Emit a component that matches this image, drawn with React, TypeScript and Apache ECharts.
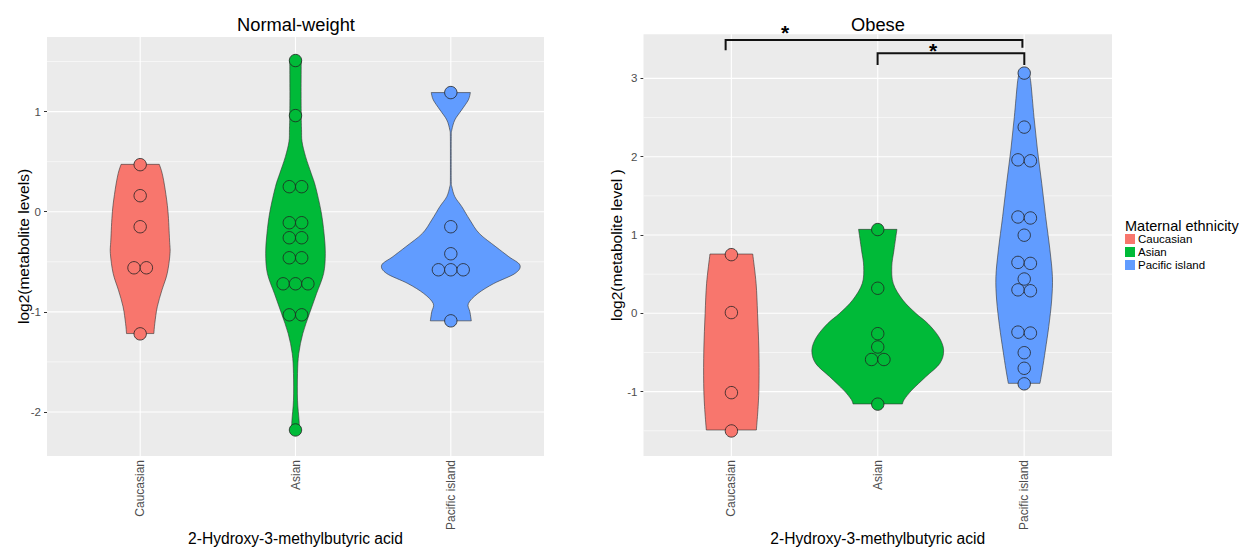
import React, { useEffect, useRef } from "react";
import * as echarts from "echarts";

// ---------- data ----------
const categories = ["Caucasian", "Asian", "Pacific island"];
const groupColors = ["#F8766D", "#00BA38", "#619CFF"];
const xTickValues = [1, 2, 3];

const normalYTicks = [-2, -1, 0, 1];
const normalYMinor = [-1.5, -0.5, 0.5, 1.5];
const obeseYTicks = [-1, 0, 1, 2, 3];
const obeseYMinor = [-1.5, -0.5, 0.5, 1.5, 2.5];

// individual observations (log2 metabolite level)
const normalCaucasian = [0.47, 0.16, -0.15, -0.56, -0.56, -1.22];
const normalAsian = [1.51, 0.96, 0.25, 0.25, -0.11, -0.11, -0.26, -0.26, -0.46, -0.46, -0.72, -0.72, -0.72, -1.03, -1.03, -2.18];
const normalPacific = [1.19, -0.15, -0.42, -0.58, -0.58, -0.58, -1.09];
const obeseCaucasian = [0.76, 0.02, -1.0, -1.49];
const obeseAsian = [1.07, 0.32, -0.26, -0.43, -0.59, -0.59, -1.16];
const obesePacific = [3.08, 2.39, 1.96, 1.96, 1.23, 1.23, 1.01, 0.65, 0.65, 0.45, 0.3, 0.3, -0.24, -0.24, -0.49, -0.69, -0.89];

// violin outlines: [value, half width in category units]
const normalCaucasianViolin = [
  [0.473, 0.123], [0.38, 0.142], [0.22, 0.161], [0, 0.179], [-0.283, 0.189], [-0.417, 0.192],
  [-0.617, 0.174], [-0.783, 0.14], [-0.95, 0.11], [-1.117, 0.094], [-1.217, 0.088],
];
const normalAsianViolin = [
  [1.51, 0.037], [1.2, 0.036], [0.95, 0.037], [0.82, 0.039], [0.7, 0.042], [0.55, 0.065],
  [0.383, 0.101], [0.25, 0.129], [0, 0.165], [-0.22, 0.184], [-0.417, 0.192], [-0.617, 0.181],
  [-0.82, 0.135], [-1.017, 0.09], [-1.217, 0.047], [-1.417, 0.021], [-1.617, 0.013],
  [-1.883, 0.013], [-2.083, 0.023], [-2.18, 0.025],
];
const normalPacificViolin = [
  [1.19, 0.126], [1.117, 0.113], [1.017, 0.07], [0.917, 0.026], [0.817, 0.0065], [0.75, 0.003],
  [0.5, 0.0025], [0.3, 0.003], [0.25, 0.0065], [0.15, 0.026], [0.05, 0.071], [-0.083, 0.123],
  [-0.217, 0.183], [-0.35, 0.29], [-0.45, 0.374], [-0.533, 0.445], [-0.617, 0.413],
  [-0.717, 0.277], [-0.817, 0.174], [-0.917, 0.113], [-1.0, 0.123], [-1.09, 0.132],
];
const obeseCaucasianViolin = [
  [0.757, 0.146], [0.383, 0.169], [0, 0.179], [-0.468, 0.188], [-0.894, 0.189], [-1.19, 0.183], [-1.49, 0.171],
];
const obeseAsianViolin = [
  [1.072, 0.131], [0.81, 0.111], [0.6, 0.096], [0.38, 0.106], [0.17, 0.171], [0, 0.26],
  [-0.13, 0.342], [-0.3, 0.417], [-0.47, 0.45], [-0.64, 0.424], [-0.81, 0.328], [-0.98, 0.233],
  [-1.1, 0.181], [-1.157, 0.169],
];
const obesePacificViolin = [
  [3.09, 0.032], [2.94, 0.046], [2.51, 0.067], [2.085, 0.091], [1.66, 0.12], [1.234, 0.147],
  [0.81, 0.176], [0.468, 0.193], [0.17, 0.188], [-0.17, 0.168], [-0.468, 0.145], [-0.723, 0.124],
  [-0.894, 0.108],
];

// significance brackets on the Obese panel: [x start, x end, top level, left leg end, right leg end]
const bracketRows = [
  [0.961, 2.988, 3.49, 3.36, 3.39],
  [1.999, 3.001, 3.32, 3.17, 3.17],
];
const starRows = [
  [1.367, 3.64],
  [2.378, 3.405],
];

// ---------- helpers ----------
const FONT = "'Liberation Sans', Arial, Helvetica, sans-serif";
const X_MIN = 0.4;
const X_MAX = 3.6;
const NORMAL_Y = [-2.44, 1.745];
const OBESE_Y = [-1.822, 3.563];

function sideCurve(pts: number[][], cx: number, side: number): string {
  let d = "";
  for (let i = 0; i < pts.length - 1; i++) {
    const p0 = pts[i - 1] || pts[i];
    const p1 = pts[i];
    const p2 = pts[i + 1];
    const p3 = pts[i + 2] || p2;
    let c1x = p1[0] + (p2[0] - p0[0]) / 6;
    const c1y = p1[1] + (p2[1] - p0[1]) / 6;
    let c2x = p2[0] - (p3[0] - p1[0]) / 6;
    const c2y = p2[1] - (p3[1] - p1[1]) / 6;
    if (side < 0) {
      c1x = Math.min(c1x, cx);
      c2x = Math.min(c2x, cx);
    } else {
      c1x = Math.max(c1x, cx);
      c2x = Math.max(c2x, cx);
    }
    d += ` C${c1x},${c1y} ${c2x},${c2y} ${p2[0]},${p2[1]}`;
  }
  return d;
}

function violinSeries(grid: number, cat: number, profile: number[][], points: number[]) {
  const color = groupColors[cat];
  return {
    type: "custom",
    name: categories[cat],
    xAxisIndex: grid,
    yAxisIndex: grid,
    coordinateSystem: "cartesian2d",
    itemStyle: { color },
    clip: false,
    silent: true,
    z: 3,
    data: [[cat + 1, 0]],
    renderItem: (_params: any, api: any) => {
      const c = api.value(0);
      const cx = api.coord([c, 0])[0];
      const left = profile.map(([v, hw]) => api.coord([c - hw, v]));
      const right = profile.map(([v, hw]) => api.coord([c + hw, v])).reverse();
      let d = `M${left[0][0]},${left[0][1]}`;
      d += sideCurve(left, cx, -1);
      d += ` L${right[0][0]},${right[0][1]}`;
      d += sideCurve(right, cx, 1);
      d += " Z";
      const children: any[] = [
        {
          type: "path",
          shape: { pathData: d },
          style: { fill: color, stroke: "#333333", lineWidth: 0.6 },
        },
      ];
      const counts = new Map<number, number>();
      points.forEach((v) => counts.set(v, (counts.get(v) || 0) + 1));
      const dia = 12.4;
      counts.forEach((n, v) => {
        const p = api.coord([c, v]);
        for (let i = 0; i < n; i++) {
          children.push({
            type: "circle",
            shape: { cx: p[0] + (i - (n - 1) / 2) * dia, cy: p[1], r: dia / 2 },
            style: { fill: color, stroke: "#222222", lineWidth: 0.8 },
          });
        }
      });
      return { type: "group", children };
    },
  };
}

function gridLineSeries(grid: number, majors: number[], minors: number[], yMin: number) {
  const data = [
    ...majors.map((v) => [v, 0]),
    ...minors.map((v) => [v, 1]),
    ...xTickValues.map((v) => [v, 2]),
  ];
  return {
    type: "custom",
    xAxisIndex: grid,
    yAxisIndex: grid,
    coordinateSystem: "cartesian2d",
    silent: true,
    z: 1,
    data,
    renderItem: (params: any, api: any) => {
      const cs = params.coordSys;
      const val = api.value(0);
      const kind = api.value(1);
      if (kind === 2) {
        const x = api.coord([val, yMin])[0];
        return {
          type: "line",
          shape: { x1: x, y1: cs.y, x2: x, y2: cs.y + cs.height },
          style: { stroke: "#ffffff", lineWidth: 1.1 },
        };
      }
      const y = api.coord([X_MIN, val])[1];
      return {
        type: "line",
        shape: { x1: cs.x, y1: y, x2: cs.x + cs.width, y2: y },
        style: { stroke: "#ffffff", lineWidth: kind === 0 ? 1.1 : 0.55 },
      };
    },
  };
}

function xAxis(grid: number) {
  return {
    type: "value",
    gridIndex: grid,
    min: X_MIN,
    max: X_MAX,
    axisLine: { show: false },
    axisTick: { show: true, customValues: xTickValues, length: 3, lineStyle: { color: "#333333", width: 1 } },
    axisLabel: {
      customValues: xTickValues,
      rotate: 90,
      margin: 4,
      padding: [6, 0, 0, 0],
      color: "#4d4d4d",
      fontSize: 12,
      fontFamily: FONT,
      formatter: (v: number) => categories[Math.round(v) - 1] || "",
    },
    splitLine: { show: false },
    name: "2-Hydroxy-3-methylbutyric acid",
    nameLocation: "middle",
    nameGap: 74,
    nameMoveOverlap: false,
    nameTextStyle: { fontSize: 15.6, color: "#000000", fontFamily: FONT },
  };
}

function yAxis(grid: number, range: number[], ticks: number[], name: string, gap: number) {
  return {
    type: "value",
    gridIndex: grid,
    min: range[0],
    max: range[1],
    axisLine: { show: false },
    axisTick: { show: true, customValues: ticks, length: 3, lineStyle: { color: "#333333", width: 1 } },
    axisLabel: { customValues: ticks, margin: 6, color: "#4d4d4d", fontSize: 11.5, fontFamily: FONT },
    splitLine: { show: false },
    name,
    nameLocation: "middle",
    nameRotate: 90,
    nameGap: gap,
    nameMoveOverlap: false,
    nameTextStyle: { fontSize: 15.5, color: "#000000", fontFamily: FONT },
  };
}

const option: any = {
  animation: false,
  backgroundColor: "#ffffff",
  textStyle: { fontFamily: FONT },
  title: [
    { text: "Normal-weight", left: 296, top: 15, textAlign: "center", padding: 0, textStyle: { fontSize: 18.3, fontWeight: "normal", color: "#000000", fontFamily: FONT } },
    { text: "Obese", left: 878, top: 15, textAlign: "center", padding: 0, textStyle: { fontSize: 18.3, fontWeight: "normal", color: "#000000", fontFamily: FONT } },
    { text: "Maternal ethnicity", left: 1125, top: 218, padding: 0, textStyle: { fontSize: 14.5, fontWeight: "normal", color: "#000000", fontFamily: FONT } },
  ],
  legend: {
    data: categories.map((n) => ({ name: n, icon: "rect" })),
    orient: "vertical",
    left: 1125,
    top: 233,
    padding: 0,
    itemWidth: 10,
    itemHeight: 10,
    itemGap: 1,
    selectedMode: false,
    textStyle: { fontSize: 11.5, color: "#000000", fontFamily: FONT, padding: [0, 0, 0, -2] },
  },
  grid: [
    { left: 47, top: 37, width: 497, height: 419, show: true, backgroundColor: "#EBEBEB", borderWidth: 0, containLabel: false, outerBoundsMode: "none" },
    { left: 643.5, top: 34.3, width: 468.5, height: 421.7, show: true, backgroundColor: "#EBEBEB", borderWidth: 0, containLabel: false, outerBoundsMode: "none" },
  ],
  xAxis: [xAxis(0), xAxis(1)],
  yAxis: [
    yAxis(0, NORMAL_Y, normalYTicks, "log2(metabolite levels)", 16),
    yAxis(1, OBESE_Y, obeseYTicks, "log2(metabolite level )", 19),
  ],
  series: [
    gridLineSeries(0, normalYTicks, normalYMinor, NORMAL_Y[0]),
    gridLineSeries(1, obeseYTicks, obeseYMinor, OBESE_Y[0]),
    violinSeries(0, 0, normalCaucasianViolin, normalCaucasian),
    violinSeries(0, 1, normalAsianViolin, normalAsian),
    violinSeries(0, 2, normalPacificViolin, normalPacific),
    violinSeries(1, 0, obeseCaucasianViolin, obeseCaucasian),
    violinSeries(1, 1, obeseAsianViolin, obeseAsian),
    violinSeries(1, 2, obesePacificViolin, obesePacific),
    {
      type: "custom",
      xAxisIndex: 1,
      yAxisIndex: 1,
      coordinateSystem: "cartesian2d",
      silent: true,
      clip: false,
      z: 5,
      data: bracketRows,
      renderItem: (_p: any, api: any) => {
        const x1 = api.value(0), x2 = api.value(1), top = api.value(2), l1 = api.value(3), l2 = api.value(4);
        const pts = [api.coord([x1, l1]), api.coord([x1, top]), api.coord([x2, top]), api.coord([x2, l2])];
        return { type: "polyline", shape: { points: pts }, style: { stroke: "#111111", lineWidth: 2, fill: null } };
      },
    },
    {
      type: "custom",
      xAxisIndex: 1,
      yAxisIndex: 1,
      coordinateSystem: "cartesian2d",
      silent: true,
      clip: false,
      z: 5,
      data: starRows,
      renderItem: (_p: any, api: any) => {
        const p = api.coord([api.value(0), api.value(1)]);
        return {
          type: "text",
          x: p[0],
          y: p[1] + 4,
          style: { text: "*", fontSize: 21, fontWeight: "bold", fill: "#000000", align: "center", verticalAlign: "middle", fontFamily: FONT },
        };
      },
    },
  ],
};

export default function App() {
  const ref = useRef<HTMLDivElement>(null);
  useEffect(() => {
    document.body.style.margin = "0";
    const chart = echarts.init(ref.current as HTMLDivElement, undefined, { renderer: "svg" });
    chart.setOption(option);
    return () => chart.dispose();
  }, []);
  return <div ref={ref} style={{ width: 1243, height: 548 }} />;
}
